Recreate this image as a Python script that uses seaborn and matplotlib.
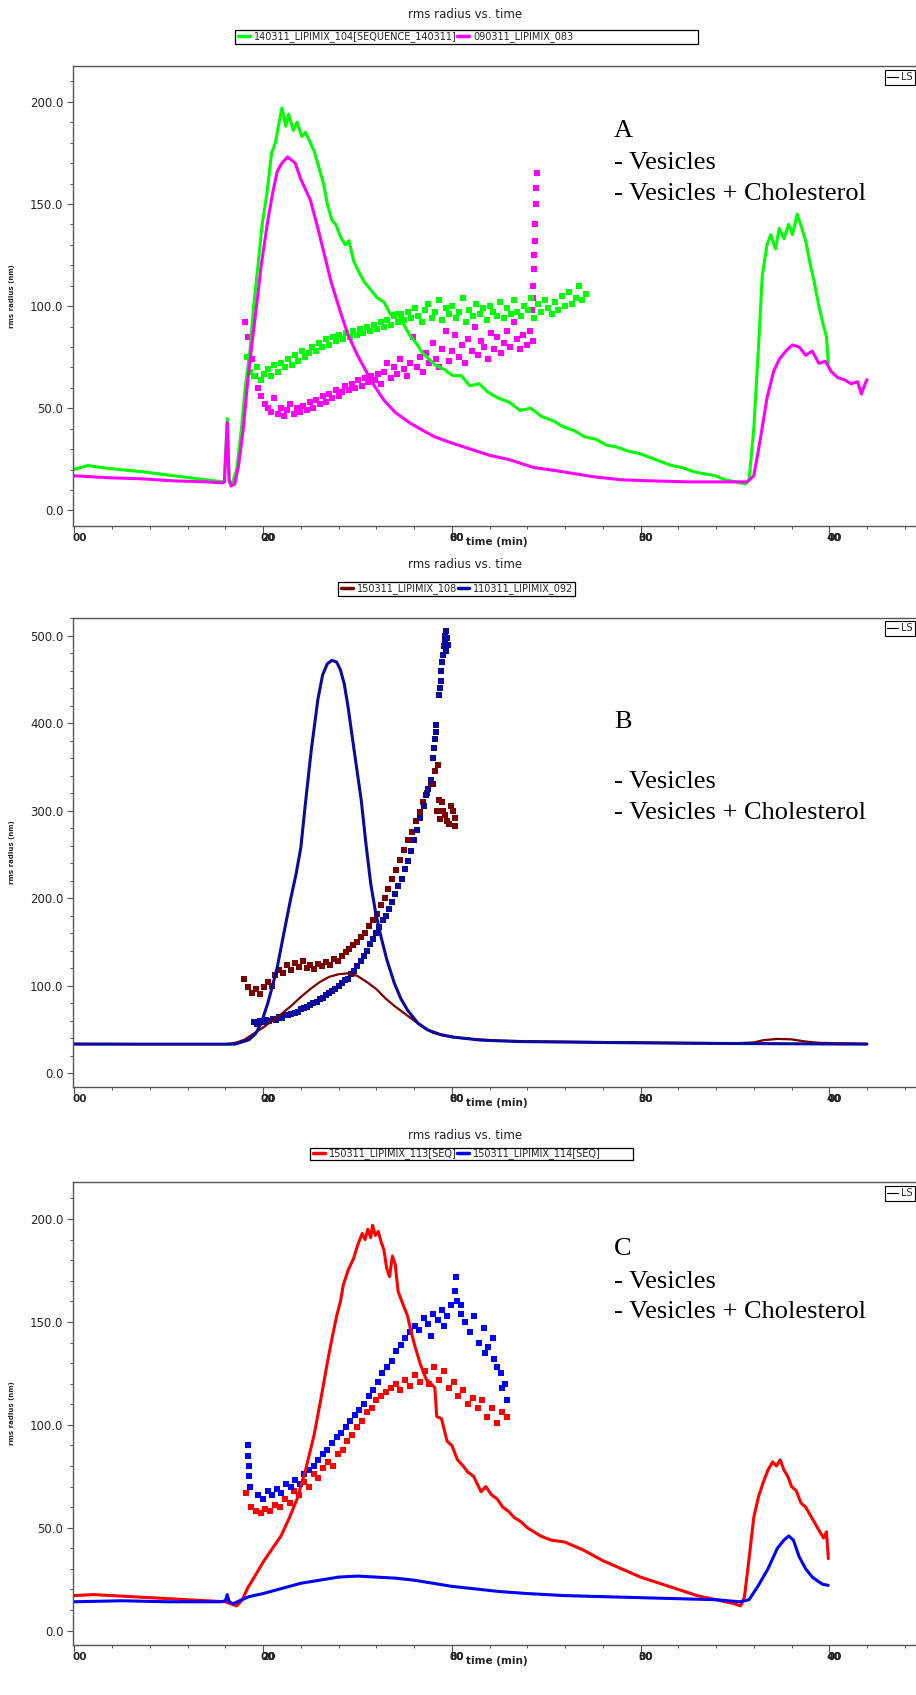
import numpy as np
import pandas as pd
import matplotlib
matplotlib.use("Agg")
import matplotlib.pyplot as plt
import seaborn as sns
from matplotlib.lines import Line2D
from matplotlib.patches import Rectangle
from matplotlib.ticker import MultipleLocator, AutoMinorLocator
import matplotlib.transforms as mtransforms

# ---------------------------------------------------------------- data
# time in minutes, rms radius in nm
x_ticks = [0, 20, 40, 60, 80]
x_tick_labels = ["00", "00", "00", "00", "00"]
x_tick_overlay = ["", "2", "8", "3", "4"]

# ---- Panel A
A_green_line_t = [-0.1, 1.4, 3.7, 7.1, 10.5, 14.0, 15.7, 15.9, 16.2, 16.4, 16.7, 17.2, 17.7, 18.1, 18.6,
                  19.0, 19.5, 19.9, 20.4, 20.9, 21.3, 21.7, 22.0, 22.4, 22.7, 23.2, 23.6, 24.1, 24.5, 25.0,
                  25.4, 25.9, 26.4, 26.8, 27.3, 27.7, 28.2, 28.7, 29.1, 29.6, 30.0, 30.7, 31.4, 32.1, 32.8,
                  33.5, 34.2, 34.8, 35.5, 36.2, 36.9, 37.6, 38.3, 39.2, 40.1, 41.0, 41.9, 42.9, 43.8, 44.9,
                  46.1, 47.2, 48.4, 49.5, 50.7, 51.8, 53.0, 54.1, 55.2, 56.4, 57.5, 58.7, 59.8, 61.0, 62.1,
                  63.3, 64.4, 65.6, 66.7, 67.9, 69.0, 70.1, 71.1, 71.5, 72.0, 72.5, 72.9, 73.4, 73.8, 74.3,
                  74.7, 75.2, 75.7, 76.1, 76.6, 77.1, 77.5, 78.0, 78.4, 78.9, 79.3, 79.7, 79.9]
A_green_line_v = [20, 22, 20.5, 19, 17, 15, 14, 14, 45, 14, 13, 20, 40, 60, 78,
                  100, 122, 140, 155, 175, 180, 190, 197, 188, 194, 186, 190, 183, 185, 180,
                  176, 168, 160, 150, 142, 140, 134, 130, 132, 122, 118, 112, 108, 104, 102,
                  96, 97, 92, 86, 82, 77, 74, 71, 69, 66, 66, 61, 62, 58, 55,
                  53, 49, 50, 46, 44, 41, 39, 36, 35, 32, 31, 29, 28, 26, 24,
                  22, 21, 19, 18, 17, 15, 14, 13, 15, 40, 80, 115, 130, 135, 128,
                  138, 133, 140, 135, 145, 138, 132, 120, 112, 100, 92, 85, 72]

A_mag_line_t = [-0.1, 3.7, 7.1, 10.5, 14.0, 15.7, 15.9, 16.2, 16.4, 16.6, 17.0, 17.4, 17.9, 18.3, 18.7,
                19.3, 19.8, 20.5, 21.0, 21.5, 22.0, 22.6, 23.4, 24.0, 24.5, 25.0, 25.7, 26.4, 27.2, 28.2,
                29.0, 30.0, 30.7, 31.5, 32.8, 34.0, 35.5, 37.0, 38.2, 40.0, 42.0, 44.0, 46.0, 48.7, 51.0,
                55.0, 58.0, 61.0, 65.0, 71.3, 72.0, 72.7, 73.4, 74.1, 74.7, 75.4, 76.1, 76.8, 77.5, 78.2,
                78.9, 79.6, 80.2, 80.9, 81.6, 82.3, 83.0, 83.4, 83.8, 84.0]
A_mag_line_v = [17, 16, 15.5, 14.5, 14, 13.5, 14, 43, 15, 12, 13, 22, 40, 60, 77,
                100, 120, 142, 155, 166, 170, 173, 170, 162, 157, 152, 140, 127, 112, 97,
                86, 76, 70, 63, 54, 48, 43, 39, 36, 33, 30, 27, 25, 21, 19.5,
                16.5, 15, 14.5, 14, 14, 17, 35, 55, 68, 74, 78, 81, 80, 76, 78,
                72, 73, 68, 65, 64, 62, 63, 57, 62, 64]

A_green_dots_range = (18.3, 54.2)
A_green_dots_v = [75, 68, 66, 70, 64, 67, 69, 66, 71, 68,
                  72, 70, 74, 71, 76, 73, 78, 75, 77, 80,
                  78, 82, 80, 84, 81, 85, 83, 86, 84, 87,
                  85, 88, 86, 89, 87, 90, 88, 91, 89, 92,
                  90, 93, 91, 95, 92, 96, 93, 97, 94, 99,
                  95, 92, 98, 101, 94, 97, 103, 93, 99, 96,
                  100, 94, 97, 104, 92, 98, 95, 101, 96, 99,
                  93, 100, 97, 95, 102, 94, 99, 96, 103, 97,
                  95, 100, 98, 104, 94, 101, 97, 103, 99, 96,
                  102, 98, 105, 100, 107, 101, 104, 110, 103, 106]

A_mag_dots_range = (18.1, 48.6)
A_mag_dots_v = [92, 85, 74, 66, 60, 56, 52, 50, 48, 55,
                47, 50, 46, 49, 52, 47, 50, 48, 51, 49,
                53, 50, 54, 52, 56, 53, 57, 55, 59, 56,
                58, 61, 59, 62, 60, 64, 61, 65, 63, 66,
                64, 67, 62, 68, 72, 65, 70, 67, 74, 69,
                66, 72, 85, 70, 75, 68, 77, 72, 82, 74,
                70, 79, 88, 73, 78, 86, 75, 81, 72, 84,
                78, 90, 76, 83, 80, 74, 87, 79, 85, 77,
                82, 88, 80, 92, 84, 79, 86, 81, 88, 83]
A_mag_spike_t = [48.5, 48.6, 48.6, 48.7, 48.7, 48.8, 48.8, 48.9, 48.9, 49.0]
A_mag_spike_v = [98, 110, 104, 125, 118, 140, 132, 150, 158, 165]

# ---- Panel B
B_red_line_t = [-0.1, 8, 15.7, 16.5, 17.2, 18, 19, 20, 21, 22, 23, 24, 25, 26, 27, 28, 29, 30, 31, 32,
                33, 34, 35, 36, 37, 38, 39, 40, 42, 45, 50, 60, 70, 72, 73, 74.5, 76, 77.5, 79, 84]
B_red_line_v = [33.5, 33, 33, 33.5, 35, 38, 45, 52, 60, 68, 77, 87, 96, 104, 110, 113, 114, 111, 104, 96,
                85, 76, 68, 60, 52, 46, 43, 41, 39, 37, 36, 35, 34, 35, 37.5, 39, 38.5, 36, 34.5, 33.5]

B_blue_line_t = [-0.1, 10, 15.7, 17, 18.5, 19.2, 19.8, 20.5, 21, 21.5, 22.2, 22.9, 23.5, 24.0, 24.5,
                 25.1, 25.8, 26.3, 26.8, 27.3, 27.8, 28.2, 28.6, 29.0, 29.7, 30.4, 30.9, 31.4, 31.9, 32.4,
                 33.1, 33.9, 34.6, 35.3, 36.4, 37.5, 38.8, 40.2, 43.1, 47, 55, 65, 75, 84]
B_blue_line_v = [33, 33, 33, 33, 38, 45, 57, 80, 100, 121, 160, 198, 228, 258, 310,
                 369, 427, 455, 468, 472, 470, 461, 445, 419, 365, 312, 262, 217, 185, 160,
                 130, 103, 85, 72, 57, 49, 44, 41, 37.6, 36, 35, 34, 33.5, 33]

B_blue_dots_range = (19.0, 37.0)
B_blue_dots_v = [58, 56, 59, 58, 61, 60, 62, 61, 64, 63, 66, 66, 68, 69, 70, 73, 74, 76, 78, 80,
                 81, 85, 86, 89, 91, 94, 96, 100, 103, 106, 108, 113, 117, 122, 128, 134, 140, 147,
                 153, 160, 167, 175, 180, 188, 196, 205, 214, 222, 233, 243, 254, 266, 278, 292, 305]
B_blue_top_t = [37.3, 37.5, 37.8, 38.0, 38.1, 38.2, 38.3, 38.35, 38.6, 38.7, 38.8, 38.9, 39.0, 39.1,
                39.2, 39.3, 39.25, 39.4, 39.5, 39.6, 39.35]
B_blue_top_v = [318, 325, 335, 360, 372, 382, 390, 398, 432, 440, 448, 460, 470, 478,
                488, 494, 500, 505, 498, 490, 483]

B_red_dots_range = (18.0, 40.3)
B_red_dots_v = [108, 98, 92, 96, 90, 98, 104, 100, 112, 118, 114, 124, 118, 126, 121, 128, 120, 124, 119,
                125, 122, 127, 124, 130, 128, 134, 138, 142, 146, 150, 156, 160, 168, 175, 182, 192, 200,
                210, 222, 232, 244, 255, 266, 276, 288, 298, 310, 320, 332, 345, 312, 300, 288, 305, 292]
B_red_extra_t = [38.0, 38.4, 38.7, 39.0, 39.3, 39.7, 40.1, 40.3, 38.5]
B_red_extra_v = [330, 300, 290, 310, 295, 285, 300, 282, 352]

# ---- Panel C
C_red_line_t = [-0.1, 2, 6, 10, 14, 16, 16.6, 17.2, 17.8, 18.4, 19.2, 20.1, 21.0, 21.9, 22.8, 23.6, 24.5,
                25.4, 26.1, 26.8, 27.3, 27.8, 28.2, 28.5, 29.0, 29.6, 30.0, 30.5, 30.8, 31.1, 31.4, 31.6,
                31.9, 32.2, 32.5, 32.8, 33.1, 33.4, 33.7, 34.0, 34.3, 34.7, 35.3, 35.7, 36.1, 36.7, 37.3,
                37.8, 38.2, 38.4, 38.9, 39.5, 40.0, 40.6, 41.2, 41.7, 42.3, 43.1, 43.6, 44.2, 44.8, 45.4,
                46.0, 46.6, 47.3, 48.0, 48.7, 49.4, 50.5, 52, 54, 56, 58, 60, 62, 64, 66, 68, 70.0, 70.6,
                71.0, 71.5, 72.0, 72.5, 73.0, 73.5, 74.0, 74.4, 74.8, 75.2, 75.6, 76.0, 76.5, 77.0, 77.5,
                78.0, 78.5, 79.0, 79.4, 79.7, 79.9]
C_red_line_v = [17, 17.5, 16.5, 15.5, 14.5, 14, 13, 12, 15, 21, 27, 34, 40, 46, 55, 64, 78,
                95, 112, 130, 142, 153, 160, 168, 175, 181, 187, 193, 190, 195, 191, 197,
                192, 194, 189, 185, 176, 172, 182, 178, 165, 160, 153, 145, 138, 129, 122,
                120, 118, 104, 103, 92, 90, 83, 80, 77, 75, 67.5, 70, 66, 64, 60,
                58, 55, 53, 50, 48, 46, 44, 43, 39, 34, 30, 26, 23, 20, 17, 15, 13, 12,
                16, 35, 55, 65, 72, 78, 82, 80, 83, 78, 75, 70, 68, 62, 60,
                56, 52, 48, 45, 48, 35]

C_blue_line_t = [-0.1, 5, 10, 15.5, 16.0, 16.2, 16.4, 16.8, 17.5, 18.5, 20, 22, 24, 26, 28, 30, 32, 34,
                 36, 38, 40, 42, 45, 48, 52, 56, 60, 64, 68, 70.5, 71.5, 72.5, 73.5, 74.5, 75.2, 75.7,
                 76.2, 76.8, 77.5, 78.2, 78.8, 79.3, 79.9]
C_blue_line_v = [14, 14.5, 14, 14, 14.5, 17.5, 14, 13, 14.5, 16.5, 18, 20.5, 23, 24.5, 26, 26.5, 26, 25.5,
                 24.5, 23, 21.5, 20.5, 19, 18, 17, 16.5, 16, 15.5, 15, 14, 15, 22, 30, 40, 44, 46,
                 44, 36, 30, 26, 24, 22.5, 22]

C_red_dots_range = (18.2, 45.8)
C_red_dots_v = [67, 60, 58, 57, 59, 58, 61, 60, 64, 62, 68, 66, 72, 70, 76, 74, 79, 82, 80, 86,
                88, 92, 95, 99, 102, 106, 108, 112, 114, 116, 118, 120, 117, 122, 119, 124, 121, 126,
                120, 128, 122, 126, 118, 121, 114, 117, 110, 113, 108, 112, 104, 108, 101, 106, 104]

C_blue_dots_range = (19.5, 45.8)
C_blue_dots_v = [66, 64, 68, 66, 69, 67, 71, 70, 73, 71, 76, 78, 80, 83, 86, 88, 91, 94, 96, 99,
                 102, 105, 107, 110, 114, 117, 121, 125, 128, 131, 136, 139, 142, 145, 148, 146, 152,
                 149, 154, 151, 156, 153, 158, 172, 154, 150, 145, 153, 140, 147, 138, 142, 128, 118, 112]
C_blue_extra_t = [18.4, 18.45, 18.5, 18.55, 18.6, 40.3, 40.5, 41.0, 43.5, 44.5, 45.2, 45.6, 39.2, 37.8]
C_blue_extra_v = [90, 85, 80, 75, 70, 165, 160, 158, 135, 132, 125, 120, 148, 143]

legend_A = ["140311_LIPIMIX_104[SEQUENCE_140311]", "090311_LIPIMIX_083"]
legend_B = ["150311_LIPIMIX_108", "110311_LIPIMIX_092"]
legend_C = ["150311_LIPIMIX_113[SEQ]", "150311_LIPIMIX_114[SEQ]"]
notes_A = ["A", "- Vesicles", "- Vesicles + Cholesterol"]
notes_B = ["B", "- Vesicles", "- Vesicles + Cholesterol"]
notes_C = ["C", "- Vesicles", "- Vesicles + Cholesterol"]
title = "rms radius vs. time"
xlabel = "time (min)"
ylabel = "rms radius (nm)"

# ---------------------------------------------------------------- style
sns.set_style("white")
plt.rcParams['font.family'] = ['DejaVu Sans']

W, H, DPI = 916, 1695, 100
fig = plt.figure(figsize=(W / DPI, H / DPI), dpi=DPI)

GREEN, MAGENTA = "#00FF00", "#FF00FF"
MAROON, NAVY = "#7A0000", "#0A0AA0"
RED, BLUE = "#FF0000", "#0000FF"
SPINE = "#555555"

AX_L, AX_W = 72.5, 870.0
XLIM = (-0.2, 92.0)


def fy(py):
    return 1 - py / H


def make_axes(top, bottom, ylim, ymajor):
    ax = fig.add_axes([AX_L / W, 1 - bottom / H, AX_W / W, (bottom - top) / H])
    ax.set_xlim(*XLIM)
    ax.set_ylim(*ylim)
    for s in ax.spines.values():
        s.set_color(SPINE)
        s.set_linewidth(1.0)
    ax.set_xticks(x_ticks)
    ax.set_xticklabels([])
    ax.xaxis.set_minor_locator(AutoMinorLocator(5))
    ax.yaxis.set_major_locator(MultipleLocator(ymajor))
    ax.yaxis.set_minor_locator(AutoMinorLocator(5))
    ax.yaxis.set_major_formatter(matplotlib.ticker.FormatStrFormatter("%.1f"))
    ax.tick_params(axis="both", which="major", direction="out", length=4, width=0.8,
                   color=SPINE, labelsize=8.5, pad=2.5, bottom=True, left=True)
    ax.tick_params(axis="both", which="minor", direction="out", length=2, width=0.7,
                   color=SPINE, bottom=True, left=True)
    ax.tick_params(axis="x", which="major", length=5)
    ax.grid(False)
    # x tick labels (overlapped glyphs, as in the source screenshot)
    trans = mtransforms.blended_transform_factory(ax.transData, ax.transAxes)
    off = mtransforms.ScaledTranslation(5 / DPI, -12 / DPI, fig.dpi_scale_trans)
    for t, lab, ov in zip(x_ticks, x_tick_labels, x_tick_overlay):
        ax.text(t, 0, lab, transform=trans + off, ha="center", va="center",
                fontsize=7.5, fontweight="bold", clip_on=False)
        if ov:
            ax.text(t, 0, ov + lab[1:], transform=trans + off, ha="center", va="center",
                    fontsize=7.5, fontweight="bold", clip_on=False)
    offx = mtransforms.ScaledTranslation(0, -16 / DPI, fig.dpi_scale_trans)
    ax.text(44.8, 0, xlabel, transform=trans + offx, ha="center", va="center",
            fontsize=7.5, fontweight="bold", clip_on=False)
    return ax


def finish_axes(ax):
    ax.set_xlabel("")
    ax.set_ylabel(ylabel, fontsize=5, fontweight="bold")
    ax.yaxis.set_label_coords(-(AX_L - 15) / AX_W, 0.5)


def line(ax, t, v, color, lw=2.2):
    df = pd.DataFrame({"t": t, "v": v})
    sns.lineplot(data=df, x="t", y="v", ax=ax, color=color, lw=lw, sort=False,
                 estimator=None, legend=False)


def dots(ax, t, v, color, s=17):
    sns.scatterplot(x=np.asarray(t, float), y=np.asarray(v, float), ax=ax, color=color,
                    marker="s", s=s, linewidth=0, legend=False)


def header(title_y, box, labels, colors):
    x0, x1, y0, y1 = box
    fig.text(465 / W, fy(title_y), title, ha="center", va="center", fontsize=8.5, color="#222222")
    fig.add_artist(Rectangle((x0 / W, fy(y1)), (x1 - x0) / W, (y1 - y0) / H,
                             transform=fig.transFigure, fill=False, edgecolor="black", lw=0.9))
    handles = [Line2D([], [], color=c, lw=2.5) for c in colors]
    fig.legend(handles, labels, loc="center left", bbox_to_anchor=((x0 + 3) / W, fy((y0 + y1) / 2)),
               ncol=2, frameon=False, fontsize=7, handlelength=1.2, handletextpad=0.4,
               columnspacing=0.1, borderpad=0, borderaxespad=0)


def ls_box(py):
    leg = fig.legend([Line2D([], [], color="black", lw=0.8)], ["LS"], loc="upper left",
                     bbox_to_anchor=(885 / W, fy(py)), fontsize=7, frameon=True, fancybox=False,
                     edgecolor="black", handlelength=1.1, handletextpad=0.3, borderpad=0.25,
                     borderaxespad=0, framealpha=1)
    leg.get_frame().set_linewidth(0.8)


def notes(texts, ys):
    for txt, yy in zip(texts, ys):
        fig.text(614 / W, fy(yy), txt, ha="left", va="center", fontsize=19,
                 family="Liberation Serif", color="black")


# ---------------------------------------------------------------- Panel A
header(15, (235, 698, 30, 44), legend_A, [GREEN, MAGENTA])
axA = make_axes(66, 525.6, (-7.4, 217.5), 50)
line(axA, A_green_line_t, A_green_line_v, GREEN)
line(axA, A_mag_line_t, A_mag_line_v, MAGENTA)
dots(axA, np.linspace(*A_mag_dots_range, len(A_mag_dots_v)), A_mag_dots_v, MAGENTA)
dots(axA, A_mag_spike_t, A_mag_spike_v, MAGENTA)
dots(axA, np.linspace(*A_green_dots_range, len(A_green_dots_v)), A_green_dots_v, GREEN)
finish_axes(axA)
ls_box(70)
notes(notes_A, [131, 163, 194])

# ---------------------------------------------------------------- Panel B
header(565, (338, 575, 582, 596), legend_B, [MAROON, NAVY])
axB = make_axes(617.5, 1087, (-16, 521), 100)
line(axB, B_red_line_t, B_red_line_v, MAROON, lw=1.6)
line(axB, B_blue_line_t, B_blue_line_v, NAVY)
dots(axB, np.linspace(*B_red_dots_range, len(B_red_dots_v)), B_red_dots_v, MAROON, s=22)
dots(axB, B_red_extra_t, B_red_extra_v, MAROON, s=22)
dots(axB, np.linspace(*B_blue_dots_range, len(B_blue_dots_v)), B_blue_dots_v, NAVY)
dots(axB, B_blue_top_t, B_blue_top_v, NAVY)
finish_axes(axB)
ls_box(621)
notes(notes_B, [722, 782, 813])

# ---------------------------------------------------------------- Panel C
header(1135.5, (310, 633, 1148, 1160), legend_C, [RED, BLUE])
axC = make_axes(1182, 1645, (-7, 218), 50)
line(axC, C_red_line_t, C_red_line_v, RED)
line(axC, C_blue_line_t, C_blue_line_v, BLUE)
dots(axC, np.linspace(*C_red_dots_range, len(C_red_dots_v)), C_red_dots_v, RED)
dots(axC, np.linspace(*C_blue_dots_range, len(C_blue_dots_v)), C_blue_dots_v, BLUE)
dots(axC, C_blue_extra_t, C_blue_extra_v, BLUE)
finish_axes(axC)
ls_box(1186)
notes(notes_C, [1249, 1281.6, 1312])

fig.savefig("out.png", dpi=DPI)
